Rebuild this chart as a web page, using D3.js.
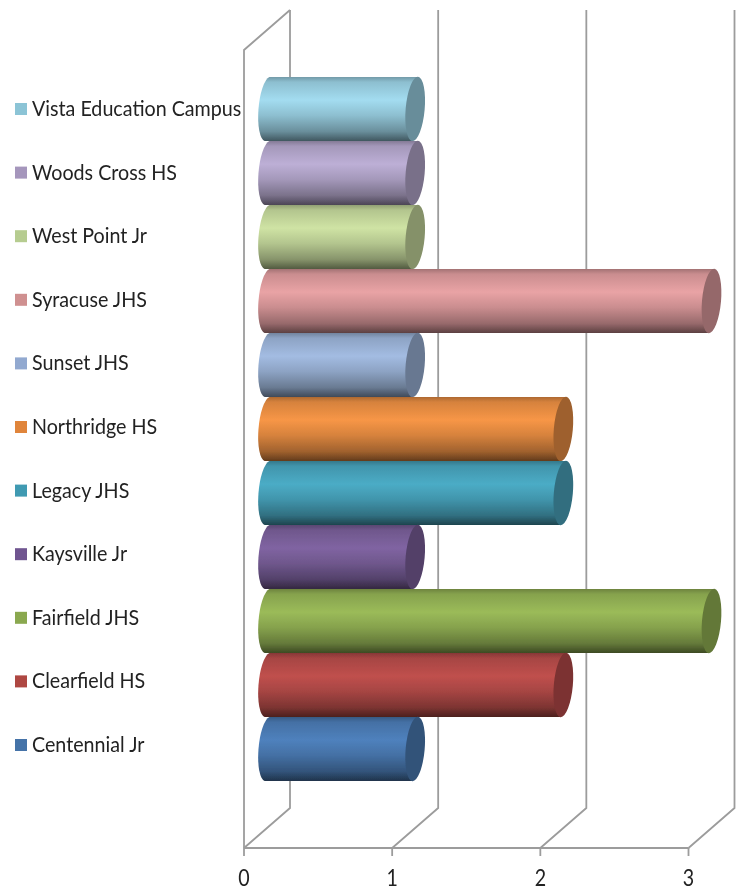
<!DOCTYPE html>
<html><head><meta charset="utf-8">
<style>html,body{margin:0;padding:0;background:#fff}svg{display:block}</style>
<script src="https://cdn.jsdelivr.net/npm/d3@7"></script>
</head><body><div id="c"></div>
<script>
const categories=["Centennial Jr","Clearfield HS","Fairfield JHS","Kaysville Jr","Legacy JHS","Northridge HS","Sunset JHS","Syracuse JHS","West Point Jr","Woods Cross HS","Vista Education Campus"];
const values=[1,2,3,1,2,2,1,3,1,1,1];
const ticks=[0,1,2,3];
const palette=["#4f81bd","#c0504d","#9bbb59","#8064a2","#4bacc6","#f79646","#a3bce2","#e9a3a5","#cfe3a4","#bdafd6","#a3dcf0"];
const legendColors=["#4573a8","#ae4643","#8aa84f","#6f5590","#3f9ab2","#e0853a","#92a9d0","#cf9090","#b6cc90","#a596bc","#8cc4d6"];

const W=743,H=890,dx=46,dy=-40,floorY=848,wallH=798;
const x=d3.scaleLinear().domain([0,3]).range([244,688.5]);
const y=d3.scaleBand().domain(categories).range([781,77]).padding(0);
const legendY=d3.scalePoint().domain(categories).range([745,109]);

const svg=d3.select("#c").append("svg").attr("width",W).attr("height",H);
const defs=svg.append("defs");
defs.append("filter").attr("id","soft").append("feGaussianBlur").attr("stdDeviation",0.6);
const root=svg.append("g").attr("filter","url(#soft)");

categories.forEach((c,i)=>{
  const col=d3.color(palette[i]);
  const g=defs.append("linearGradient").attr("id","g"+i).attr("x1",0).attr("x2",0).attr("y1",0).attr("y2",1);
  [[0,col.darker(1.0)],[0.08,col.darker(0.4)],[0.36,col],[0.6,col.darker(0.4)],[0.85,col.darker(1.2)],[1,col.darker(2.6)]]
    .forEach(([o,k])=>g.append("stop").attr("offset",o).attr("stop-color",k));
});

const grid=root.append("g").attr("fill","none").attr("stroke","#9c9c9c").attr("stroke-width",1.8);
grid.append("path").attr("d",`M${x(0)},${floorY}V${floorY-wallH}L${x(0)+dx},${floorY-wallH+dy}`);
grid.append("line").attr("x1",x(0)).attr("x2",x(3)).attr("y1",floorY).attr("y2",floorY);
grid.selectAll(".wall").data(ticks).join("path").attr("class","wall")
  .attr("d",t=>`M${x(t)},${floorY}L${x(t)+dx},${floorY+dy}V${floorY+dy-wallH}`);
grid.selectAll(".tick").data(ticks).join("line").attr("class","tick")
  .attr("x1",t=>x(t)).attr("x2",t=>x(t)).attr("y1",floorY).attr("y2",floorY+8);

root.append("g").attr("font-family","Lato, 'Open Sans', sans-serif").attr("font-size",24).attr("fill","#222")
  .selectAll("text").data(ticks).join("text")
  .attr("transform",t=>`translate(${x(t)},886) scale(0.82,1)`)
  .attr("text-anchor","middle").text(t=>t);

const off=dx/2, rx=9.5, tilt=5;
const bars=root.append("g").selectAll("g").data(categories.map((c,i)=>({c,i,v:values[i]})).reverse()).join("g");
bars.each(function(d){
  const g=d3.select(this), t=y(d.c), h=y.bandwidth(), cy=t+h/2, ry=h/2+0.3;
  const x0=x(0)+off, x1=x(d.v)+off;
  const tx=ry*Math.sin(tilt*Math.PI/180)*0.85;
  g.append("path").attr("fill",`url(#g${d.i})`)
   .attr("d",`M${x0+tx},${t}L${x1+tx},${t}L${x1-tx},${t+h}L${x0-tx},${t+h}`+
     `A${rx},${ry} ${tilt} 0 1 ${x0+tx},${t}Z`);
  g.append("ellipse").attr("cx",x1).attr("cy",cy).attr("rx",rx).attr("ry",ry)
   .attr("transform",`rotate(${tilt} ${x1} ${cy})`)
   .attr("fill",d3.color(palette[d.i]).darker(1.25));
});

const leg=root.append("g").selectAll("g").data(categories).join("g")
  .attr("transform",c=>`translate(15,${legendY(c)})`);
leg.append("rect").attr("y",-6).attr("width",12).attr("height",12).attr("fill",(c,i)=>legendColors[i]);
leg.append("text").attr("transform","translate(17,7) scale(0.895,1)").attr("font-family","Lato, 'Open Sans', sans-serif")
  .attr("font-size",22).attr("fill","#222").text(c=>c);
</script></body></html>
